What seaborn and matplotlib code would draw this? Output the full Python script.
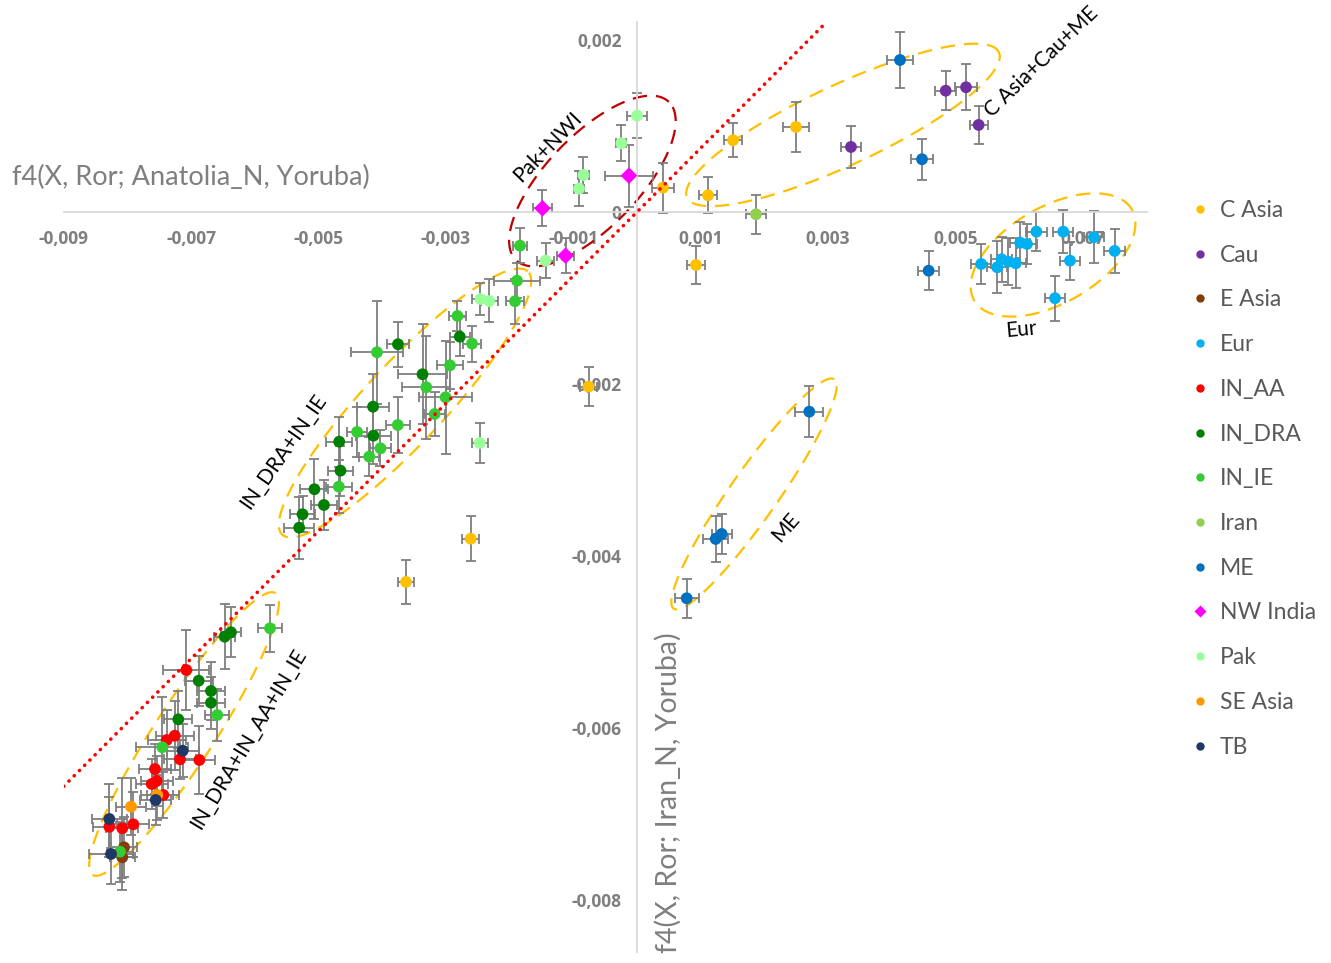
import numpy as np
import pandas as pd
import seaborn as sns
import matplotlib.pyplot as plt
from matplotlib.lines import Line2D

# values are in units of 0.001: (x, y, xerr, yerr)
SCALE = 1e-3

C_ASIA = [(0.408, 0.283, 0.18, 0.29), (1.507, 0.834, 0.14, 0.20), (2.496, 0.988, 0.21, 0.29),
          (1.115, 0.194, 0.14, 0.21), (0.926, -0.616, 0.14, 0.22), (-0.760, -2.031, 0.13, 0.23),
          (-2.611, -3.799, 0.13, 0.26), (-3.626, -4.302, 0.13, 0.26)]
CAU = [(4.846, 1.410, 0.16, 0.23), (5.165, 1.450, 0.17, 0.27), (5.363, 1.012, 0.14, 0.22),
       (3.359, 0.756, 0.16, 0.24)]
E_ASIA = [(-8.053, -7.387, 0.20, 0.35), (-8.080, -7.503, 0.20, 0.38)]
EUR = [(5.403, -0.605, 0.16, 0.23), (5.655, -0.643, 0.16, 0.30), (5.724, -0.550, 0.16, 0.26),
       (5.829, -0.578, 0.16, 0.27), (5.947, -0.597, 0.16, 0.29), (6.016, -0.357, 0.16, 0.24),
       (6.122, -0.372, 0.16, 0.23), (6.270, -0.229, 0.16, 0.23), (6.691, -0.229, 0.16, 0.25),
       (6.797, -0.566, 0.16, 0.22), (6.562, -1.003, 0.16, 0.26), (7.174, -0.294, 0.16, 0.30),
       (7.498, -0.453, 0.16, 0.26)]
IN_AA = [(-7.075, -5.326, 0.36, 0.46), (-7.257, -6.090, 0.30, 0.40), (-7.383, -6.140, 0.30, 0.35),
         (-7.174, -6.364, 0.25, 0.23), (-6.871, -6.372, 0.25, 0.40), (-7.567, -6.477, 0.25, 0.29),
         (-7.540, -6.616, 0.25, 0.29), (-7.619, -6.651, 0.25, 0.29), (-7.436, -6.779, 0.25, 0.27),
         (-8.284, -7.148, 0.25, 0.35), (-8.080, -7.166, 0.25, 0.58), (-7.907, -7.120, 0.25, 0.38)]
IN_DRA = [(-6.374, -4.887, 0.16, 0.29), (-6.473, -4.938, 0.16, 0.38), (-6.881, -5.450, 0.22, 0.29),
          (-6.688, -5.570, 0.22, 0.34), (-6.688, -5.706, 0.22, 0.30), (-7.201, -5.899, 0.22, 0.33),
          (-2.782, -1.450, 0.16, 0.23), (-3.752, -1.538, 0.17, 0.26), (-3.367, -1.887, 0.39, 0.58),
          (-4.144, -2.264, 0.25, 0.38), (-4.138, -2.601, 0.27, 0.33), (-4.675, -2.671, 0.20, 0.29),
          (-4.655, -3.008, 0.20, 0.29), (-5.064, -3.224, 0.22, 0.35), (-4.915, -3.407, 0.20, 0.29),
          (-5.251, -3.515, 0.20, 0.21), (-5.303, -3.671, 0.24, 0.36)]
IN_IE = [(-1.837, -0.392, 0.11, 0.20), (-1.884, -0.799, 0.36, 0.20), (-1.915, -1.038, 0.14, 0.26),
         (-2.818, -1.209, 0.14, 0.17), (-2.590, -1.531, 0.14, 0.21), (-4.082, -1.631, 0.41, 0.60),
         (-2.936, -1.783, 0.20, 0.27), (-3.308, -2.038, 0.38, 0.60), (-3.005, -2.155, 0.41, 0.66),
         (-3.176, -2.349, 0.16, 0.26), (-3.755, -2.477, 0.19, 0.33), (-4.394, -2.558, 0.16, 0.29),
         (-4.027, -2.748, 0.16, 0.21), (-4.203, -2.845, 0.16, 0.23), (-4.681, -3.194, 0.20, 0.31),
         (-5.761, -4.841, 0.19, 0.27), (-6.589, -5.849, 0.19, 0.30), (-7.452, -6.224, 0.41, 0.58),
         (-8.116, -7.438, 0.20, 0.35)]
IRAN = [(1.868, -0.027, 0.16, 0.23)]
ME = [(4.129, 1.767, 0.20, 0.32), (4.474, 0.613, 0.17, 0.24), (4.578, -0.683, 0.16, 0.23),
      (2.705, -2.322, 0.22, 0.30), (1.330, -3.744, 0.16, 0.23), (1.235, -3.802, 0.20, 0.27),
      (0.780, -4.492, 0.19, 0.23)]
NW_INDIA = [(-0.126, 0.422, 0.38, 0.36), (-1.485, 0.043, 0.15, 0.21), (-1.121, -0.508, 0.13, 0.20)]
PAK = [(0.000, 1.120, 0.16, 0.26), (-0.245, 0.799, 0.08, 0.21), (-0.840, 0.430, 0.08, 0.21),
       (-0.911, 0.271, 0.08, 0.20), (-1.436, -0.566, 0.13, 0.20), (-2.457, -1.012, 0.13, 0.19),
       (-2.319, -1.035, 0.13, 0.25), (-2.468, -2.686, 0.13, 0.23)]
SE_ASIA = [(-7.531, -6.779, 0.25, 0.29), (-7.943, -6.915, 0.24, 0.33)]
TB = [(-7.132, -6.264, 0.25, 0.31), (-7.556, -6.837, 0.24, 0.29), (-8.284, -7.058, 0.27, 0.41),
      (-8.257, -7.465, 0.35, 0.35)]

groups = ['C Asia', 'Cau', 'E Asia', 'Eur', 'IN_AA', 'IN_DRA', 'IN_IE', 'Iran', 'ME',
          'NW India', 'Pak', 'SE Asia', 'TB']
colors = ['#FFC000', '#7030A0', '#843C0C', '#00B0F0', '#FF0000', '#008000', '#33CC33',
          '#92D050', '#0070C0', '#FF00FF', '#99FF99', '#FF9900', '#203864']
group_data = [C_ASIA, CAU, E_ASIA, EUR, IN_AA, IN_DRA, IN_IE, IRAN, ME, NW_INDIA, PAK, SE_ASIA, TB]

x_ticks = [-0.009, -0.007, -0.005, -0.003, -0.001, 0.001, 0.003, 0.005, 0.007]
x_tick_labels = ['-0,009', '-0,007', '-0,005', '-0,003', '-0,001', '0,001', '0,003', '0,005', '0,007']
y_ticks = [-0.008, -0.006, -0.004, -0.002, 0.0, 0.002]
y_tick_labels = ['-0,008', '-0,006', '-0,004', '-0,002', '0', '0,002']

rows = []
for g, pts in zip(groups, group_data):
    for x, y, xe, ye in pts:
        rows.append((g, x * SCALE, y * SCALE, xe * SCALE, ye * SCALE))
df = pd.DataFrame(rows, columns=['group', 'x', 'y', 'xerr', 'yerr'])

# red dotted reference line y = k*x
line_slope = 0.742
line_x = [-9.0, 2.97]

# ellipses: centre (x, y in 0.001), semi axes in px, angle, colour
ellipses = [
    ((-0.70, 0.36), 110, 46, 46, '#C00000'),
    ((3.234, 1.012), 172, 40, 25, '#FFC000'),
    ((6.531, -0.50), 91, 48, 30, '#FFC000'),
    ((-3.642, -2.221), 180, 40, 47, '#FFC000'),
    ((-7.111, -6.070), 168, 30, 57, '#FFC000'),
    ((1.837, -3.279), 140, 24, 55, '#FFC000'),
]
ell_labels = [
    ('Pak+NWI', (-1.397, 0.756), 46),
    ('C Asia+Cau+ME', (6.342, 1.744), 44),
    ('Eur', (6.028, -1.372), 5),
    ('IN_DRA+IN_IE', (-5.557, -2.779), 55),
    ('IN_DRA+IN_AA+IN_IE', (-6.107, -6.128), 59),
    ('ME', (2.339, -3.663), 49),
]

sns.set_style('white')
plt.rcParams['font.family'] = ['Lato', 'DejaVu Sans']

fig = plt.figure(figsize=(13.31, 9.63), dpi=100)
ax = fig.add_axes([63.7 / 1331, (963 - 951.6) / 963, 1082.9 / 1331, 929.7 / 963])
ax.set_xlim(-0.009, 0.008)
ax.set_ylim(-0.0086, 0.00221)

axis_col = '#D9D9D9'
for side in ['top', 'right']:
    ax.spines[side].set_visible(False)
ax.spines['left'].set_position(('data', 0))
ax.spines['bottom'].set_position(('data', 0))
for side in ['left', 'bottom']:
    ax.spines[side].set_color(axis_col)
    ax.spines[side].set_linewidth(1.3)

tick_font = dict(family=['Open Sans', 'DejaVu Sans'], weight='bold', size=12.5)
ax.set_xticks(x_ticks)
ax.set_xticklabels(x_tick_labels, fontdict=tick_font)
ax.set_yticks(y_ticks)
ax.set_yticklabels(y_tick_labels, fontdict=tick_font)
ax.tick_params(direction='inout', length=8, width=1.2, color=axis_col, labelcolor='#7F7F7F')
ax.tick_params(axis='x', pad=9)
ax.tick_params(axis='y', pad=7)

# error bars
for g in groups:
    d = df[df['group'] == g]
    ax.errorbar(d['x'], d['y'], xerr=d['xerr'], yerr=d['yerr'], fmt='none',
                ecolor='#7F7F7F', elinewidth=1.3, capsize=3.5, capthick=1.3, zorder=2)

markers = {g: 'o' for g in groups}
markers['NW India'] = 'D'
sns.scatterplot(data=df, x='x', y='y', hue='group', hue_order=groups,
                palette=dict(zip(groups, colors)), style='group', markers=markers,
                s=72, edgecolor='none', legend=False, ax=ax, zorder=3)
ax.set_xlabel('')
ax.set_ylabel('')

# dotted line
lx = np.array(line_x) * SCALE
ax.plot(lx, line_slope * lx, color='#FF0000', lw=2.6, linestyle=(0, (0.05, 2.0)),
        dash_capstyle='round', zorder=4)

# ellipses drawn in pixel space
t = np.linspace(0, 2 * np.pi, 300)
for (cx, cy), a, b, ang, col in ellipses:
    c = ax.transData.transform((cx * SCALE, cy * SCALE))
    th = np.deg2rad(ang)
    px = c[0] + a * np.cos(t) * np.cos(th) - b * np.sin(t) * np.sin(th)
    py = c[1] + a * np.cos(t) * np.sin(th) + b * np.sin(t) * np.cos(th)
    pts = ax.transData.inverted().transform(np.column_stack([px, py]))
    ax.plot(pts[:, 0], pts[:, 1], color=col, lw=1.6, linestyle=(0, (6.5, 4)), zorder=1)

for text, (tx, ty), rot in ell_labels:
    ax.text(tx * SCALE, ty * SCALE, text, rotation=rot, rotation_mode='anchor',
            ha='center', va='center', fontsize=15, color='black', zorder=5)

fig.text(12 / 1331, 1 - 177 / 963, 'f4(X, Ror; Anatolia_N, Yoruba)', ha='left', va='center',
         fontsize=19.5, color='#7F7F7F')
fig.text(668 / 1331, 1 - 793 / 963, 'f4(X, Ror; Iran_N, Yoruba)', ha='center', va='center',
         rotation=90, fontsize=20.5, color='#7F7F7F')

handles = [Line2D([0], [0], marker='D' if g == 'NW India' else 'o', linestyle='none',
                  markersize=6, markerfacecolor=c, markeredgecolor='none')
           for g, c in zip(groups, colors)]
fig.legend(handles, groups, loc='upper left', bbox_to_anchor=(1192 / 1331, 1 - 200 / 963),
           frameon=False, handlelength=0.7, handletextpad=0.5, labelspacing=1.035,
           fontsize=16.5, labelcolor='#595959', borderaxespad=0, borderpad=0)

fig.savefig('out.png', dpi=100)
